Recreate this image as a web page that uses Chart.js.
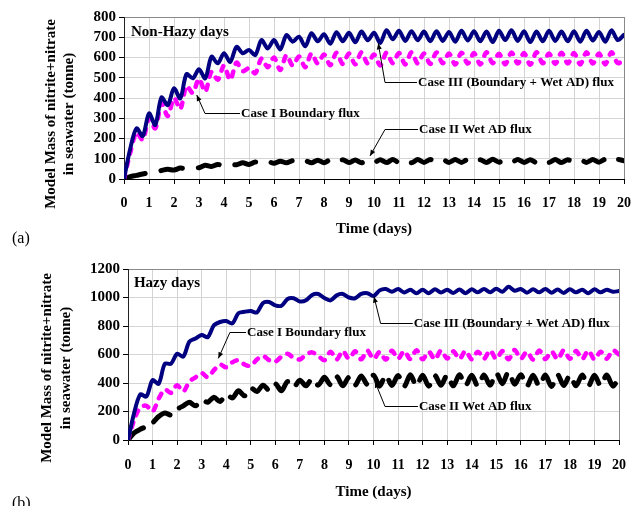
<!DOCTYPE html>
<html>
<head>
<meta charset="utf-8">
<script src="https://cdn.jsdelivr.net/npm/chart.js@4.4.1/dist/chart.umd.min.js"></script>
<style>
body{margin:0;background:#fff;width:631px;height:506px;overflow:hidden;position:relative;font-family:"Liberation Serif","Times New Roman",serif;}
.box{position:absolute;left:0;}
.box canvas{display:block;}
.tag{position:absolute;left:12px;font-size:16px;line-height:18px;color:#000;}
</style>
</head>
<body>

<div class="box" style="top:0"><canvas id="chartA" width="631" height="250"></canvas></div>
<div class="box" style="top:250px"><canvas id="chartB" width="631" height="256"></canvas></div>
<div class="tag" style="top:229px">(a)</div>
<div class="tag" style="top:494px">(b)</div>

<script>

/* DATA */

// time axis, every 6 hours over 20 days
const days = [];
for(let i = 0; i <= 80; i++){ days.push(i / 4); }

const caseNames = [
"Case III (Boundary + Wet AD) flux",
"Case I Boundary flux",
"Case II Wet AD flux"
];

/* non-hazy days (tonne) */

const nonHazyCase3 = [0,
150,250,212,324, 267,403,365,448, 398,518,497,542, 497,604,571,621,
578,653,621,637, 612,686,645,686, 640,711,678,703, 655,720,680,715,
668,725,680,722, 675,728,685,722, 672,735,690,732, 682,730,685,728,
680,730,682,726, 678,732,684,730, 680,728,676,732, 686,734,682,730,
676,728,680,732, 682,728,680,730, 678,732,684,726, 678,734,686,712];

const nonHazyCase1 = [0,
130,230,193,300, 250,375,311,400, 345,460,425,495, 431,530,490,560,
489,575,532,548, 522,595,552,600, 538,612,560,605, 552,620,570,615,
562,624,568,620, 566,626,570,615, 560,624,572,622, 566,626,570,620,
568,625,572,620, 565,624,570,622, 566,626,572,618, 566,625,570,622,
564,626,572,620, 568,624,570,622, 566,626,570,620, 566,626,572,590];

const nonHazyCase2 = [0,
12,18,25,30, 34,42,48,44, 54,50,58,56, 68,62,72,64,
74,70,80,72, 84,76,86,78, 88,80,90,80, 90,80,93,80,
94,80,95,81, 94,80,96,82, 95,81,96,82, 95,80,96,82,
96,81,95,82, 96,82,96,81, 95,82,97,83, 98,83,96,82,
95,81,96,82, 96,81,95,82, 96,82,96,83, 97,82,96,90];

/* hazy days (tonne) */

const hazyCase3 = [0,
190,320,305,420, 395,535,535,605, 585,690,712,737, 722,805,828,835,
818,890,900,905, 895,962,968,945, 942,990,995,972, 980,1018,1025,996,
980,1015,1025,1000, 995,1025,1030,1010, 1050,1060,1040,1060, 1035,1055,1030,1055,
1030,1058,1035,1055, 1032,1056,1030,1058, 1036,1060,1036,1062, 1040,1075,1048,1060,
1034,1058,1036,1060, 1034,1056,1032,1058, 1036,1055,1030,1058, 1036,1055,1040,1045];

const hazyCase1 = [0,
140,230,240,200, 290,355,330,385, 340,410,440,470, 440,490,530,510,
545,560,530,520, 565,590,560,550, 585,605,575,565, 600,615,590,560,
620,565,625,570, 622,566,628,568, 618,564,626,570, 624,568,630,566,
620,565,628,572, 622,568,626,566, 620,570,630,568, 624,566,632,570,
620,564,628,568, 622,566,630,570, 624,568,628,566, 620,570,630,600];

const hazyCase2 = [0,
50,75,95,120, 165,190,175,215, 240,265,240,280, 265,300,270,320,
295,345,310,365, 340,385,350,395, 345,410,370,420, 380,430,385,440,
388,445,380,440, 385,450,390,455, 378,455,382,452, 376,458,380,455,
378,452,384,456, 380,458,382,455, 378,456,385,470, 395,478,392,458,
378,455,380,456, 376,458,382,454, 380,456,378,455, 382,456,378,440];

/* LABELS ON THE PLOT */

const notesA = [
{label:caseNames[1], text:[4.64,327], elbow:3.24, tip:[2.91,415]},
{label:caseNames[0], text:[11.72,480], elbow:10.44, tip:[10.17,670]},
{label:caseNames[2], text:[11.76,245], elbow:10.44, tip:[9.84,114]}
];

const notesB = [
{label:caseNames[1], text:[4.81,756], elbow:4.15, tip:[3.68,573]},
{label:caseNames[0], text:[11.6,823], elbow:10.29, tip:[10.02,1006]},
{label:caseNames[2], text:[11.81,237], elbow:10.47, tip:[10.06,409]}
];

const serif = "'Liberation Serif','Times New Roman',serif";

/* PLUGIN: y title, panel name, arrows */

const annotate = {

id:"annotate",

afterDraw(chart, args, opts){

const {ctx, chartArea, scales:{x, y}} = chart;

ctx.save();
ctx.fillStyle = "#000";
ctx.strokeStyle = "#000";

// y axis title, two lines
ctx.font = "bold 15px " + serif;
ctx.textAlign = "center";
ctx.textBaseline = "middle";

opts.yTitle.forEach((line, i) => {
ctx.save();
ctx.translate(chartArea.left + opts.yTitleX[i], opts.yTitleY);
ctx.rotate(-Math.PI / 2);
ctx.fillText(line, 0, 0);
ctx.restore();
});

// panel name
ctx.textAlign = "left";
ctx.fillText(opts.panel, x.getPixelForValue(opts.panelAt[0]), y.getPixelForValue(opts.panelAt[1]));

// leader lines
ctx.font = "bold 13px " + serif;
ctx.lineWidth = 1;

opts.notes.forEach(n => {

const tx = x.getPixelForValue(n.text[0]);
const ty = Math.round(y.getPixelForValue(n.text[1])) + 0.5;
const ex = x.getPixelForValue(n.elbow);
const px = x.getPixelForValue(n.tip[0]);
const py = y.getPixelForValue(n.tip[1]);

ctx.beginPath();
ctx.moveTo(tx, ty);
ctx.lineTo(ex, ty);
ctx.lineTo(px, py);
ctx.stroke();

// arrow head
const dx = px - ex, dy = py - ty;
const len = Math.hypot(dx, dy);
const ux = dx / len, uy = dy / len;
ctx.beginPath();
ctx.moveTo(px, py);
ctx.lineTo(px - ux * 6 - uy * 2.5, py - uy * 6 + ux * 2.5);
ctx.lineTo(px - ux * 6 + uy * 2.5, py - uy * 6 - ux * 2.5);
ctx.closePath();
ctx.fill();

ctx.fillText(n.label, tx + 1, ty);

});

ctx.restore();

}

};

/* CHART SETUP */

function makeChart(id, s){

const xFont = {family:serif, size:14, weight:"bold"};
const yFont = {family:serif, size:15, weight:"bold"};

return new Chart(document.getElementById(id), {

type:"line",

data:{

labels:days,

datasets:[

{
label:caseNames[0],
data:s.case3,
borderColor:"#000080",
borderWidth:4
},

{
label:caseNames[1],
data:s.case1,
borderColor:"#ff00ff",
borderWidth:4.5,
borderDash:[5,8]
},

{
label:caseNames[2],
data:s.case2,
borderColor:"#000000",
borderWidth:5,
borderDash:s.blackDash
}

]

},

options:{

responsive:false,
animation:false,
events:[],

layout:{
padding:{top:s.top, right:s.right, left:0, bottom:0}
},

elements:{
point:{radius:0},
line:{tension:0.3, borderCapStyle:"round", borderJoinStyle:"round", fill:false}
},

plugins:{
legend:{display:false},
tooltip:{enabled:false},
annotate:{
yTitle:["Model Mass of nitrite+nitrate", "in seawater (tonne)"],
yTitleX:s.yTitleX,
yTitleY:s.yTitleY,
panel:s.panel,
panelAt:s.panelAt,
notes:s.notes
}
},

scales:{

x:{
type:"linear",
min:0,
max:20,
afterFit:(sc) => { sc.height = s.xHeight; sc.paddingLeft = 0; sc.paddingRight = 0; },
ticks:{stepSize:1, color:"#000", font:xFont, padding:s.xTickPad, maxRotation:0, autoSkip:false},
grid:{
color:(c) => c.tick && c.tick.value === 20 ? "#8a8a8a" : "#d4d4d4",
tickColor:"#000",
tickLength:5
},
border:{color:"#000", width:1},
title:{
display:true,
text:"Time (days)",
color:"#000",
font:{family:serif, size:15, weight:"bold"},
padding:{top:0, bottom:s.xTitlePad}
}
},

y:{
min:0,
max:s.yMax,
afterFit:(sc) => { sc.width = s.yWidth; },
ticks:{stepSize:s.yStep, color:"#000", font:yFont, padding:3, autoSkip:false, callback:(v) => String(v)},
grid:{
color:(c) => c.tick && c.tick.value === s.yMax ? "#8a8a8a" : "#d4d4d4",
tickColor:"#000",
tickLength:5
},
border:{color:"#222", width:1}
}

}

},

plugins:[annotate]

});

}

makeChart("chartA", {
case3:nonHazyCase3, case1:nonHazyCase1, case2:nonHazyCase2,
yMax:800, yStep:100,
top:17, right:7, yWidth:124, xHeight:71,
xTickPad:11, xTitlePad:12,
yTitleX:[-73, -55], yTitleY:114,
panel:"Non-Hazy days", panelAt:[0.28,727],
notes:notesA,
blackDash:[22,16]
});

makeChart("chartB", {
case3:hazyCase3, case1:hazyCase1, case2:hazyCase2,
yMax:1200, yStep:200,
top:19, right:12, yWidth:128, xHeight:66,
xTickPad:12, xTitlePad:5,
yTitleX:[-80.5, -62], yTitleY:118,
panel:"Hazy days", panelAt:[0.24,1102],
notes:notesB,
blackDash:[20,12]
});

</script>
</body>
</html>
